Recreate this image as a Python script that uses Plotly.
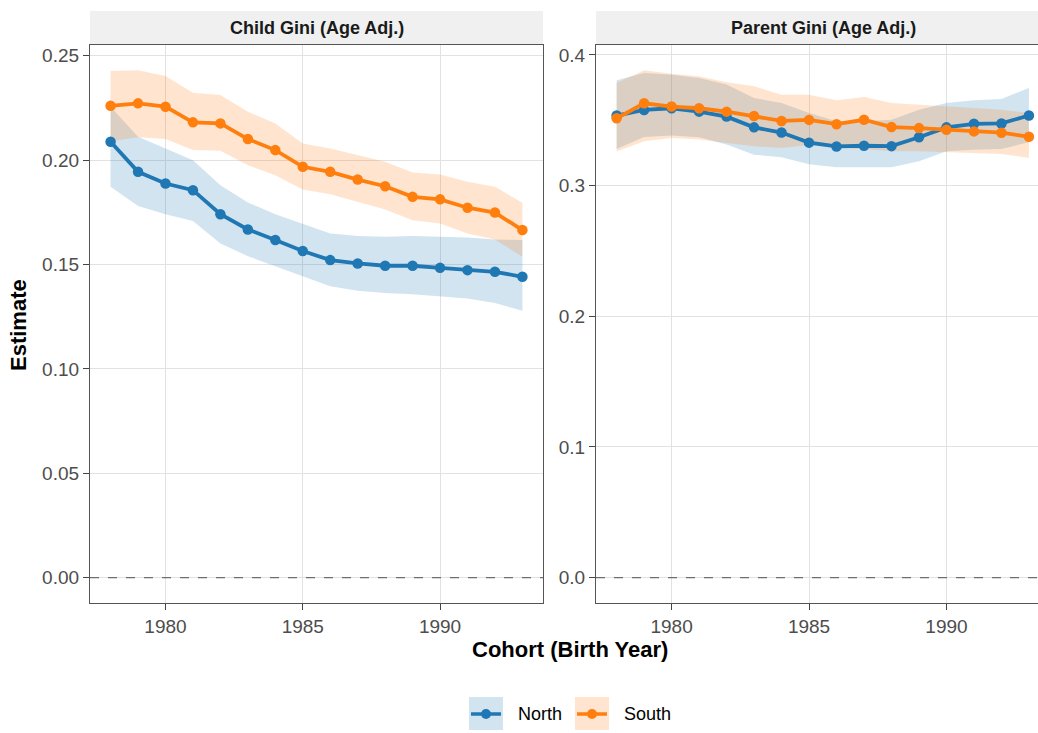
import plotly.graph_objects as go

# Birth cohorts
years = list(range(1978, 1994))

# Child Gini (age adjusted): estimate and confidence band
child_north = [0.2088, 0.1944, 0.1888, 0.1856, 0.1741, 0.1668, 0.1617, 0.1565,
               0.1521, 0.1505, 0.1494, 0.1494, 0.1484, 0.1473, 0.1465, 0.1441]
child_north_lo = [0.1872, 0.1780, 0.1741, 0.1708, 0.1601, 0.1540, 0.1492, 0.1444,
                  0.1396, 0.1374, 0.1364, 0.1358, 0.1348, 0.1337, 0.1316, 0.1278]
child_north_hi = [0.2256, 0.2112, 0.2056, 0.2000, 0.1880, 0.1797, 0.1741, 0.1696,
                  0.1649, 0.1636, 0.1633, 0.1637, 0.1633, 0.1629, 0.1620, 0.1617]

child_south = [0.2260, 0.2272, 0.2256, 0.2181, 0.2176, 0.2101, 0.2048, 0.1968,
               0.1944, 0.1907, 0.1875, 0.1824, 0.1812, 0.1772, 0.1749, 0.1665]
child_south_lo = [0.2091, 0.2109, 0.2101, 0.2048, 0.2045, 0.1976, 0.1928, 0.1859,
                  0.1837, 0.1800, 0.1764, 0.1712, 0.1696, 0.1649, 0.1620, 0.1537]
child_south_hi = [0.2427, 0.2430, 0.2403, 0.2323, 0.2312, 0.2232, 0.2176, 0.2080,
                  0.2056, 0.2024, 0.1992, 0.1941, 0.1931, 0.1896, 0.1872, 0.1796]

# Parent Gini (age adjusted): estimate and confidence band
parent_north = [0.3536, 0.3579, 0.3592, 0.3566, 0.3528, 0.3446, 0.3406, 0.3329,
                0.3300, 0.3305, 0.3302, 0.3370, 0.3446, 0.3473, 0.3476, 0.3537]
parent_north_lo = [0.3280, 0.3372, 0.3383, 0.3370, 0.3314, 0.3237, 0.3217, 0.3164,
                   0.3140, 0.3140, 0.3140, 0.3186, 0.3263, 0.3275, 0.3281, 0.3332]
parent_north_hi = [0.3806, 0.3862, 0.3849, 0.3824, 0.3773, 0.3671, 0.3632, 0.3556,
                   0.3492, 0.3492, 0.3505, 0.3581, 0.3632, 0.3653, 0.3663, 0.3747]

parent_south = [0.3515, 0.3630, 0.3605, 0.3592, 0.3566, 0.3533, 0.3495, 0.3503,
                0.3470, 0.3504, 0.3448, 0.3440, 0.3427, 0.3415, 0.3405, 0.3374]
parent_south_lo = [0.3262, 0.3339, 0.3365, 0.3352, 0.3326, 0.3301, 0.3288, 0.3310,
                   0.3288, 0.3281, 0.3263, 0.3263, 0.3255, 0.3250, 0.3242, 0.3212]
parent_south_hi = [0.3786, 0.3882, 0.3857, 0.3837, 0.3791, 0.3760, 0.3696, 0.3696,
                   0.3653, 0.3678, 0.3632, 0.3620, 0.3607, 0.3594, 0.3581, 0.3556]

panel_titles = ["Child Gini (Age Adj.)", "Parent Gini (Age Adj.)"]
x_ticks = [1980, 1985, 1990]

BLUE = "#1F77B4"
ORANGE = "#FF7F0E"
BLUE_FILL = "rgba(31,119,180,0.2)"
ORANGE_FILL = "rgba(255,127,14,0.2)"
FONT = "Liberation Sans, Arial, Helvetica, sans-serif"

W, H = 1038, 733
ML, MR, MT, MB = 90, 0, 45, 130
PW, PH = W - ML - MR, H - MT - MB


def px_x(p):
    return (p - ML) / PW


def px_y(p):
    return (H - MB - p) / PH


fig = go.Figure()

panels = [
    ("x", "y", [
        ("North", child_north, child_north_lo, child_north_hi, BLUE, BLUE_FILL),
        ("South", child_south, child_south_lo, child_south_hi, ORANGE, ORANGE_FILL),
    ]),
    ("x2", "y2", [
        ("North", parent_north, parent_north_lo, parent_north_hi, BLUE, BLUE_FILL),
        ("South", parent_south, parent_south_lo, parent_south_hi, ORANGE, ORANGE_FILL),
    ]),
]

for xa, ya, series in panels:
    # confidence ribbons first
    for name, est, lo, hi, col, fill in series:
        fig.add_trace(go.Scatter(
            x=years + years[::-1], y=hi + lo[::-1],
            xaxis=xa, yaxis=ya, fill="toself", fillcolor=fill,
            line=dict(width=0), mode="lines", hoverinfo="skip", showlegend=False))
    # estimate lines with points
    for name, est, lo, hi, col, fill in series:
        fig.add_trace(go.Scatter(
            x=years, y=est, xaxis=xa, yaxis=ya, name=name,
            mode="lines+markers", line=dict(color=col, width=3.8),
            marker=dict(color=col, size=10.5), showlegend=False))


def y_range(*arrs):
    lo = min(0, min(min(a) for a in arrs))
    hi = max(max(a) for a in arrs)
    pad = (hi - lo) * 0.05
    return [lo - pad, hi + pad]


left_range = y_range(child_north_lo, child_north_hi, child_south_lo, child_south_hi)
right_range = y_range(parent_north_lo, parent_north_hi, parent_south_lo, parent_south_hi)

dom_left = [0, px_x(543)]
dom_right = [px_x(596), 1]

axis_common = dict(
    showgrid=True, gridcolor="#E2E2E2", gridwidth=1.4, zeroline=False,
    showline=True, linecolor="#555555", linewidth=1.2,
    ticks="outside", ticklen=6, tickcolor="#444444", tickwidth=1.2,
    tickfont=dict(family=FONT, size=19, color="#4D4D4D"),
)

fig.update_layout(
    width=W, height=H,
    margin=dict(l=ML, r=MR, t=MT, b=MB),
    paper_bgcolor="white", plot_bgcolor="white",
    showlegend=False,
    font=dict(family=FONT),
    xaxis=dict(domain=dom_left, range=[1977.25, 1993.75], tickvals=x_ticks,
               mirror=True, anchor="y", **axis_common),
    yaxis=dict(domain=[0, 1], range=left_range, dtick=0.05, tickformat=".2f",
               mirror=True, anchor="x", **axis_common),
    xaxis2=dict(domain=dom_right, range=[1977.25, 1993.33], tickvals=x_ticks,
                mirror=True, anchor="y2", **axis_common),
    yaxis2=dict(domain=[0, 1], range=right_range, dtick=0.1, tickformat=".1f",
                mirror=False, anchor="x2", **axis_common),
)

shapes = []
annotations = []

# dashed reference line at zero
for xd, ya in (("x domain", "y"), ("x2 domain", "y2")):
    shapes.append(dict(type="line", xref=xd, yref=ya, x0=0, x1=1, y0=0, y1=0,
                       line=dict(color="#6E6E6E", width=1.3, dash="dash")))

# facet strips
strip_top = px_y(11)
strip_specs = [
    (dom_left, panel_titles[0], (dom_left[0] + dom_left[1]) / 2),
    (dom_right, panel_titles[1], px_x(823)),
]
for (d0, d1), title, cx in strip_specs:
    shapes.append(dict(type="rect", xref="paper", yref="paper", x0=d0, x1=d1,
                       y0=1, y1=strip_top, fillcolor="#F0F0F0", line=dict(width=0),
                       layer="below"))
    annotations.append(dict(text=f"<b>{title}</b>", xref="paper", yref="paper",
                            x=cx, y=px_y(28), xanchor="center", yanchor="middle",
                            showarrow=False, font=dict(family=FONT, size=18, color="#1A1A1A")))

# axis titles
annotations.append(dict(text="<b>Cohort (Birth Year)</b>", xref="paper", yref="paper",
                        x=px_x(570), y=px_y(649), xanchor="center", yanchor="middle",
                        showarrow=False, font=dict(family=FONT, size=22, color="black")))
annotations.append(dict(text="<b>Estimate</b>", xref="paper", yref="paper",
                        x=px_x(18), y=px_y(325), xanchor="center", yanchor="middle",
                        textangle=-90, showarrow=False,
                        font=dict(family=FONT, size=22, color="black")))

# legend keys
for name, col, fill, bx in (("North", BLUE, BLUE_FILL, 469), ("South", ORANGE, ORANGE_FILL, 575)):
    shapes.append(dict(type="rect", xref="paper", yref="paper",
                       x0=px_x(bx), x1=px_x(bx + 34), y0=px_y(730), y1=px_y(697),
                       fillcolor=fill, line=dict(width=0)))
    shapes.append(dict(type="line", xref="paper", yref="paper",
                       x0=px_x(bx + 2), x1=px_x(bx + 32), y0=px_y(714), y1=px_y(714),
                       line=dict(color=col, width=3.5)))
    shapes.append(dict(type="circle", xref="paper", yref="paper",
                       x0=px_x(bx + 12), x1=px_x(bx + 22), y0=px_y(719), y1=px_y(709),
                       fillcolor=col, line=dict(width=0)))
    annotations.append(dict(text=name, xref="paper", yref="paper",
                            x=px_x(bx + 47), y=px_y(714), xanchor="left", yanchor="middle",
                            showarrow=False, font=dict(family=FONT, size=18, color="black")))

fig.update_layout(shapes=shapes, annotations=annotations)

fig.write_html("out.html")
